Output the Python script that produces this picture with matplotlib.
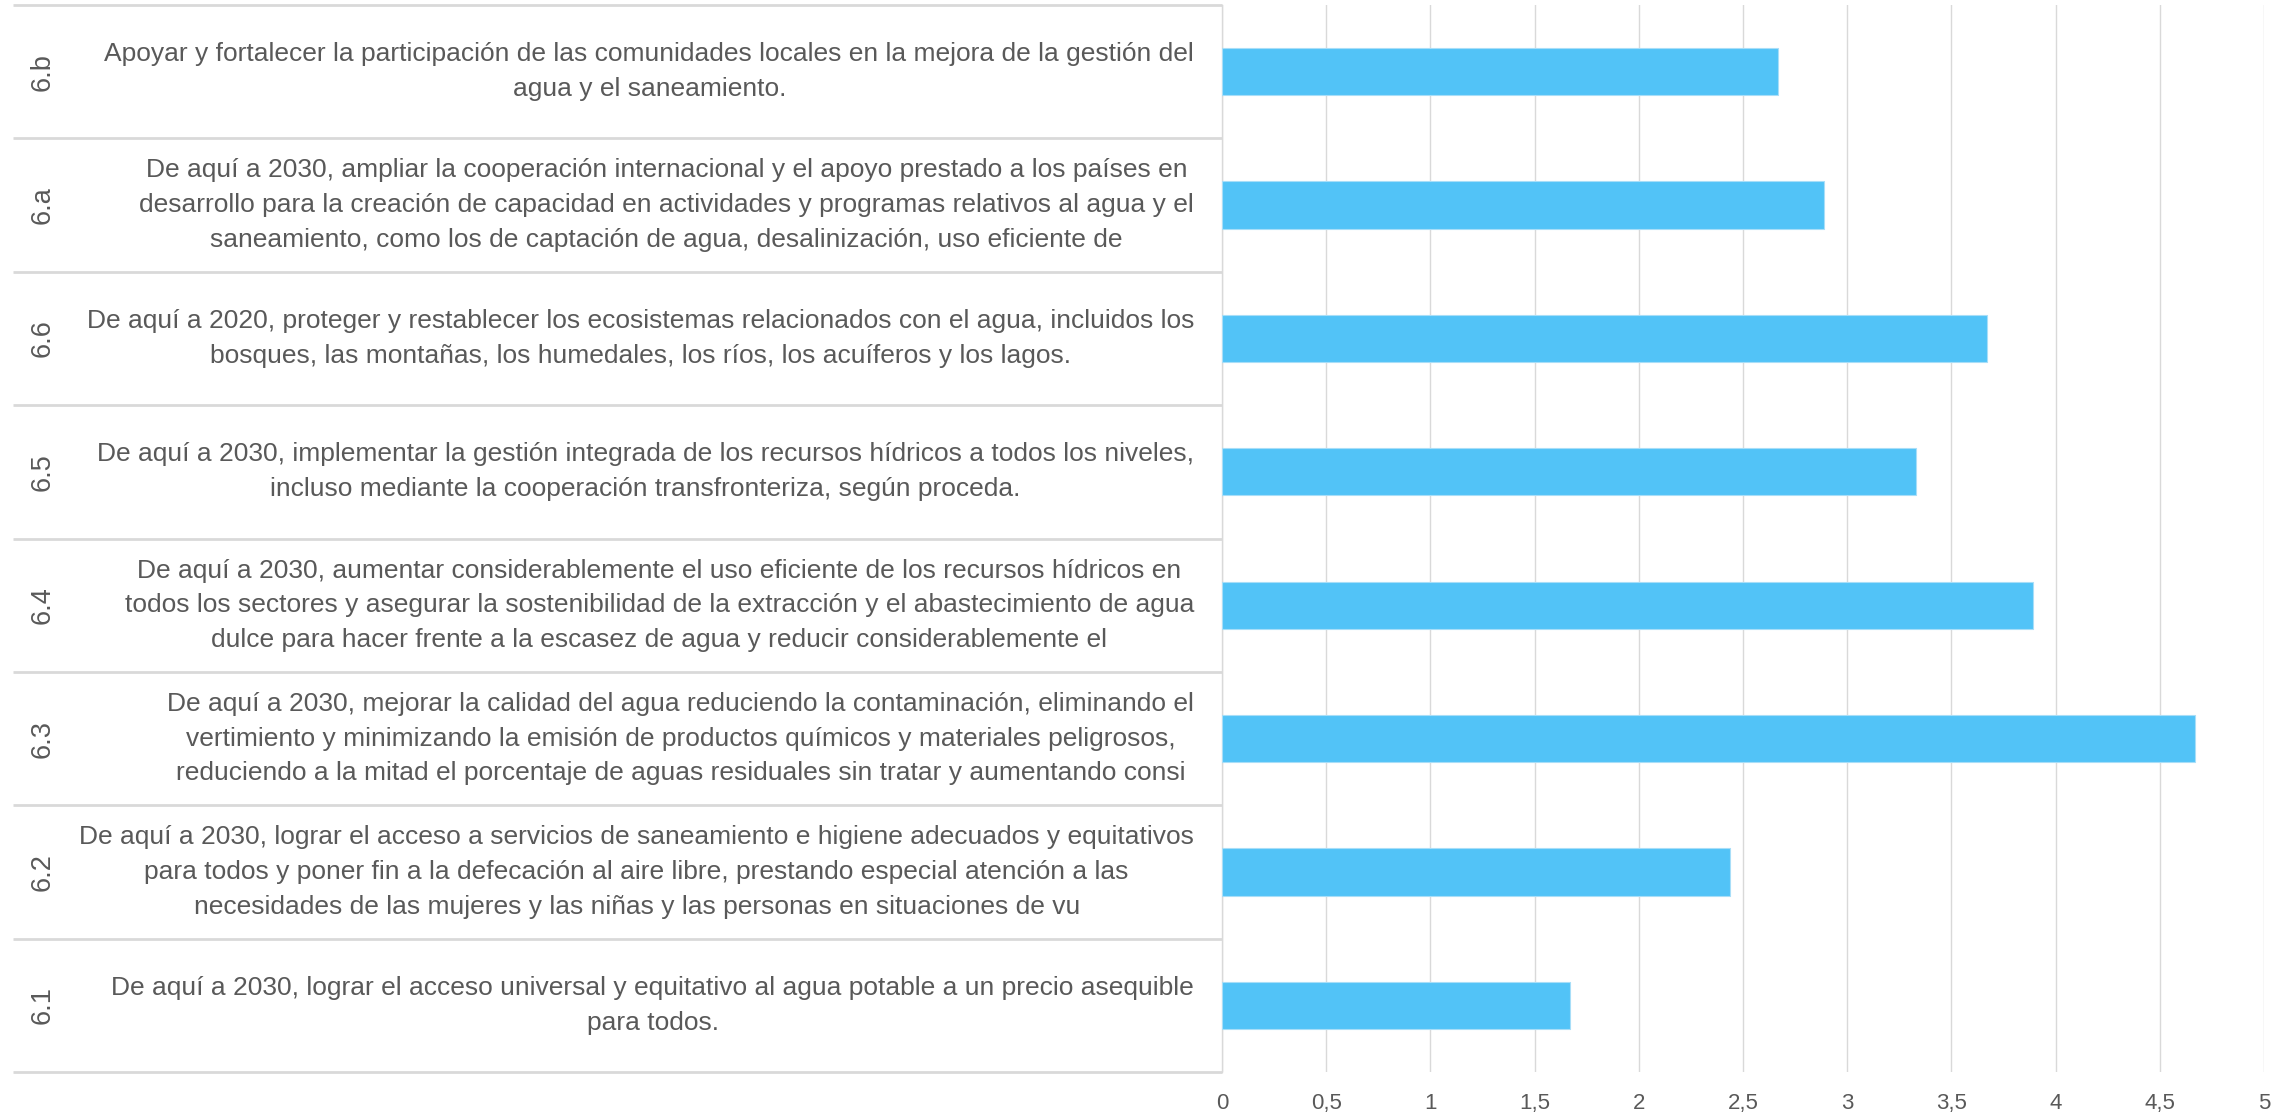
import matplotlib
matplotlib.use("Agg")
import matplotlib.pyplot as plt
from matplotlib.transforms import blended_transform_factory
from matplotlib.ticker import FuncFormatter

# --- Data (bottom to top) -----------------------------------------------------

codes = ["6.1", "6.2", "6.3", "6.4", "6.5", "6.6", "6.a", "6.b"]

targets = [
    "De aquí a 2030, lograr el acceso universal y equitativo al agua potable a un precio asequible\n"
    "para todos.",
    "De aquí a 2030, lograr el acceso a servicios de saneamiento e higiene adecuados y equitativos\n"
    "para todos y poner fin a la defecación al aire libre, prestando especial atención a las\n"
    "necesidades de las mujeres y las niñas y las personas en situaciones de vu",
    "De aquí a 2030, mejorar la calidad del agua reduciendo la contaminación, eliminando el\n"
    "vertimiento y minimizando la emisión de productos químicos y materiales peligrosos,\n"
    "reduciendo a la mitad el porcentaje de aguas residuales sin tratar y aumentando consi",
    "De aquí a 2030, aumentar considerablemente el uso eficiente de los recursos hídricos en\n"
    "todos los sectores y asegurar la sostenibilidad de la extracción y el abastecimiento de agua\n"
    "dulce para hacer frente a la escasez de agua y reducir considerablemente el",
    "De aquí a 2030, implementar la gestión integrada de los recursos hídricos a todos los niveles,\n"
    "incluso mediante la cooperación transfronteriza, según proceda.",
    "De aquí a 2020, proteger y restablecer los ecosistemas relacionados con el agua, incluidos los\n"
    "bosques, las montañas, los humedales, los ríos, los acuíferos y los lagos.",
    "De aquí a 2030, ampliar la cooperación internacional y el apoyo prestado a los países en\n"
    "desarrollo para la creación de capacidad en actividades y programas relativos al agua y el\n"
    "saneamiento, como los de captación de agua, desalinización, uso eficiente de",
    "Apoyar y fortalecer la participación de las comunidades locales en la mejora de la gestión del\n"
    "agua y el saneamiento.",
]

scores = [1.67, 2.44, 4.67, 3.89, 3.33, 3.67, 2.89, 2.67]

xticks = [0, 0.5, 1, 1.5, 2, 2.5, 3, 3.5, 4, 4.5, 5]

# --- Style --------------------------------------------------------------------

BAR = "#52C3F7"
GRID = "#D9D9D9"
TXT = "#595959"
plt.rcParams["font.family"] = ["Liberation Sans", "DejaVu Sans"]

fig = plt.figure(figsize=(22.81, 11.15), dpi=100)
ax = fig.add_axes([1222 / 2281, 43 / 1115, 1042 / 2281, 1067 / 1115])

ypos = list(range(len(codes)))
ax.barh(ypos, scores, height=0.355, color=BAR, edgecolor="#A8DEF8",
        linewidth=0.8, zorder=3)

ax.set_xlim(0, 5)
ax.set_ylim(-0.5, len(codes) - 0.5)
ax.set_xticks(xticks)
ax.xaxis.set_major_formatter(FuncFormatter(lambda v, p: f"{v:g}".replace(".", ",")))
ax.tick_params(axis="x", length=0, pad=15, labelsize=16, labelcolor=TXT)
ax.set_yticks([])
ax.grid(axis="x", color=GRID, lw=1.0, zorder=0)
for s in ["top", "right", "bottom"]:
    ax.spines[s].set_visible(False)
ax.spines["left"].set_color(GRID)
ax.spines["left"].set_linewidth(1.0)

# --- Category labels (two-level) ----------------------------------------------

tr = blended_transform_factory(fig.transFigure, ax.transData)
for y, code, label in zip(ypos, codes, targets):
    ax.text(0.5235, y, label, transform=tr, ha="right", va="center",
            multialignment="center", fontsize=19.0, color=TXT,
            linespacing=1.56, clip_on=False)
    ax.text(0.0185, y, code, transform=tr, ha="center", va="center",
            rotation=90, fontsize=19.5, color=TXT, clip_on=False)

seps = [k - 0.5 for k in range(len(codes) + 1)]
ax.hlines(seps, 13 / 2281, 1222 / 2281, transform=tr, colors=GRID,
          lw=2.0, clip_on=False)

fig.savefig("out.png", dpi=100)
